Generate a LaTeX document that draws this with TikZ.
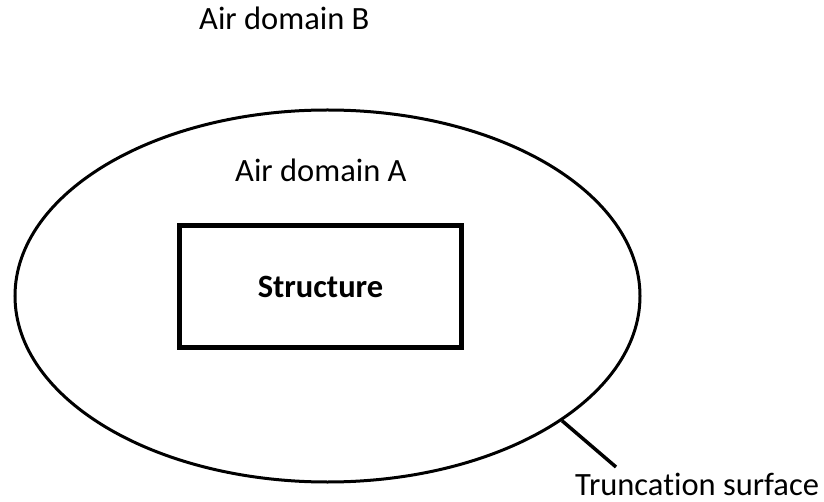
\documentclass[tikz,border=0pt]{standalone}
\usepackage{fontspec}
\setmainfont[Ligatures={NoCommon,NoRare}]{Carlito}
\usepackage{tikz}
\usetikzlibrary{shapes.geometric}
\newcommand{\figfont}{\fontsize{32.5}{39}\selectfont}
\tikzstyle{airzone} = [ellipse, draw=black, line width=3pt, minimum width=625pt, minimum height=372pt, inner sep=0pt]
\tikzstyle{solidbody} = [rectangle, draw=black, line width=5pt, minimum width=282pt, minimum height=122pt, font=\figfont\bfseries]
\tikzstyle{tag} = [inner sep=0pt, anchor=base west, font=\figfont]
\tikzstyle{leader} = [line width=3.5pt]

\begin{document}
\begin{tikzpicture}[x=1pt, y=-1pt]
    \fill[white] (0,0) rectangle (824,502);
    \useasboundingbox (0,0) rectangle (824,502);
    \node (airA) [airzone] at (327.5,296) {};
    \node (structure) [solidbody] at (320.5,286.5) {Structure};
    \node (airBlabel) [tag] at (199,30) {Air domain B};
    \node (airAlabel) [tag] at (235,182) {Air domain A};
    \node (trunc) [tag] at (575,495) {Truncation surface};
    \coordinate (tickend) at (616,467);
    \draw [leader] (airA.-28) -- (tickend);
\end{tikzpicture}
\end{document}
